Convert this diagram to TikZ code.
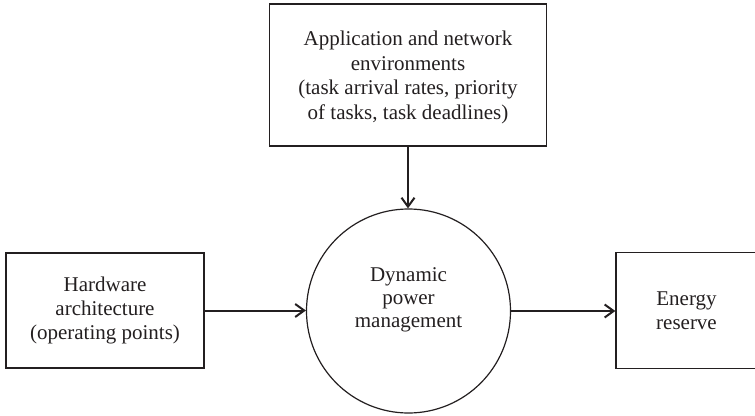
\documentclass[tikz,border=0pt]{standalone}
\usepackage{fontspec}
\setmainfont{Liberation Serif}
\usetikzlibrary{arrows.meta}
\definecolor{ink}{HTML}{231F20}
\begin{document}
\begin{tikzpicture}[x=1pt,y=-1pt,
  box/.style={draw=ink,line width=1.3pt,rectangle,inner sep=0pt,align=center,text=ink,
    font=\fontsize{21}{24.4}\selectfont},
  roundbox/.style={draw=ink,line width=1.2pt,circle,inner sep=0pt,minimum size=204pt},
  txt/.style={inner sep=0pt,align=center,text=ink,font=\fontsize{21}{23}\selectfont},
  flow/.style={draw=ink,line width=2pt,-{Straight Barb[length=9pt,width=13pt]}}]
\useasboundingbox (0,0) rectangle (755,415);
\node[box,minimum width=277.5pt,minimum height=142pt] (app) at (408,75) {};
\node[txt,font=\fontsize{21}{24.4}\selectfont] (apptext) at (408,77.5)
  {Application and network\\environments\\(task arrival rates, priority\\of tasks, task deadlines)};
\node[box,minimum width=198pt,minimum height=115pt] (hw) at (105,310.5)
  {Hardware\\architecture\\(operating points)};
\node[box,minimum width=141pt,minimum height=116pt] (er) at (686.5,310.7)
  {Energy\\reserve};
\node[roundbox] (dpm) at (408.5,311) {};
\node[txt] (dpmtext) at (408.5,300) {Dynamic\\power\\management};
\draw[flow] (app.south) -- (app.south |- dpm.north);
\draw[flow] (hw.east) -- (hw.east -| dpm.west);
\draw[flow] (dpm.east) -- (dpm.east -| er.west);
\end{tikzpicture}
\end{document}
